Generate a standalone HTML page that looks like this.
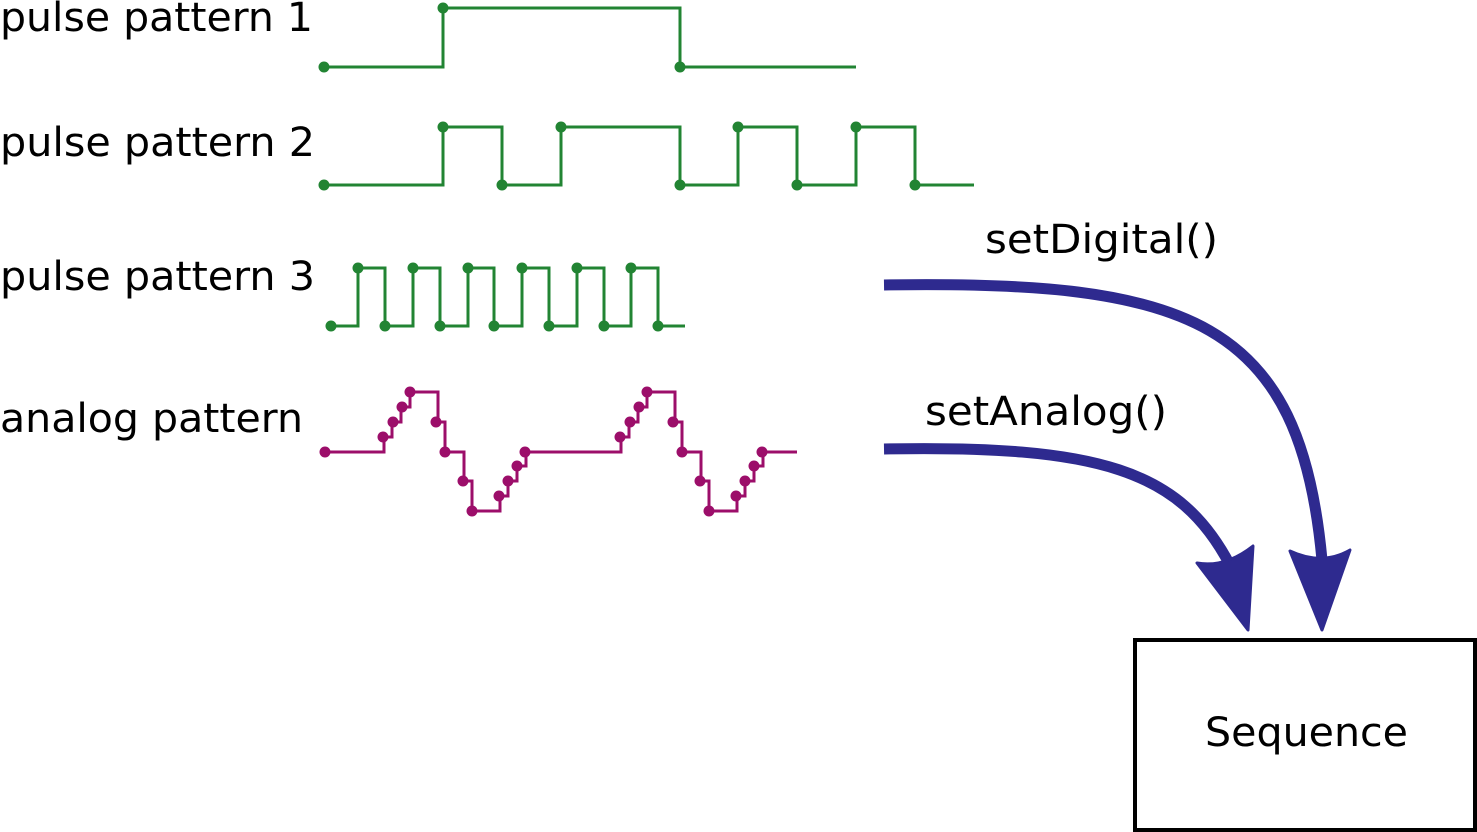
<!DOCTYPE html>
<html><head><style>html,body{margin:0;padding:0;background:#fff}svg{display:block}</style></head>
<body>
<svg width="1477" height="832" viewBox="0 0 1477 832" xmlns="http://www.w3.org/2000/svg">
<g font-family="'DejaVu Sans','Liberation Sans',sans-serif" font-size="40" fill="#000">
<text x="0" y="31" textLength="313" lengthAdjust="spacingAndGlyphs">pulse pattern 1</text>
<text x="0" y="156" textLength="315" lengthAdjust="spacingAndGlyphs">pulse pattern 2</text>
<text x="0" y="290" textLength="315" lengthAdjust="spacingAndGlyphs">pulse pattern 3</text>
<text x="0" y="432" textLength="303" lengthAdjust="spacingAndGlyphs">analog pattern</text>
<text x="985" y="253" textLength="233" lengthAdjust="spacingAndGlyphs">setDigital()</text>
<text x="925" y="425" textLength="242" lengthAdjust="spacingAndGlyphs">setAnalog()</text>
<text x="1205" y="746" textLength="203" lengthAdjust="spacingAndGlyphs">Sequence</text>
</g>
<g fill="none" stroke="#228433" stroke-width="3">
<path d="M324,67 H443 V8 H680 V67 H856"/>
<path d="M324,185 H443 V127 H502 V185 H561 V127 H680 V185 H738 V127 H797 V185 H856 V127 H915 V185 H974"/>
<path d="M331,326 H358 V268 H385 V326 H413 V268 H440 V326 H468 V268 H494 V326 H522 V268 H549 V326 H577 V268 H604 V326 H631 V268 H658 V326 H685"/>
</g>
<g fill="#228433">
<circle cx="324" cy="67" r="5.5"/><circle cx="443" cy="8" r="5.5"/><circle cx="680" cy="67" r="5.5"/>
<circle cx="324" cy="185" r="5.5"/><circle cx="443" cy="127" r="5.5"/><circle cx="502" cy="185" r="5.5"/><circle cx="561" cy="127" r="5.5"/><circle cx="680" cy="185" r="5.5"/><circle cx="738" cy="127" r="5.5"/><circle cx="797" cy="185" r="5.5"/><circle cx="856" cy="127" r="5.5"/><circle cx="915" cy="185" r="5.5"/>
<circle cx="331" cy="326" r="5.5"/><circle cx="358" cy="268" r="5.5"/><circle cx="385" cy="326" r="5.5"/><circle cx="413" cy="268" r="5.5"/><circle cx="440" cy="326" r="5.5"/><circle cx="468" cy="268" r="5.5"/><circle cx="494" cy="326" r="5.5"/><circle cx="522" cy="268" r="5.5"/><circle cx="549" cy="326" r="5.5"/><circle cx="577" cy="268" r="5.5"/><circle cx="604" cy="326" r="5.5"/><circle cx="631" cy="268" r="5.5"/><circle cx="658" cy="326" r="5.5"/>
</g>
<path fill="none" stroke="#9c0e6a" stroke-width="3" d="M325,452 H384 V437 H392 V422 H401 V407 H410 V392 H438 V422 H445 V452 H464 V481 H472 V511 H500 V496 H508 V481 H517 V466 H526 V452 H621 V437 H629 V422 H638 V407 H647 V392 H675 V422 H682 V452 H701 V481 H709 V511 H737 V496 H745 V481 H754 V466 H763 V452 H797"/>
<g fill="#9c0e6a">
<circle cx="325" cy="452" r="5.5"/>
<circle cx="383" cy="437" r="5.5"/><circle cx="393" cy="422" r="5.5"/><circle cx="402" cy="407" r="5.5"/><circle cx="410" cy="392" r="5.5"/><circle cx="436" cy="422" r="5.5"/><circle cx="445" cy="452" r="5.5"/><circle cx="463" cy="481" r="5.5"/><circle cx="472" cy="511" r="5.5"/><circle cx="499" cy="496" r="5.5"/><circle cx="508" cy="481" r="5.5"/><circle cx="517" cy="466" r="5.5"/><circle cx="525" cy="452" r="5.5"/>
<circle cx="620" cy="437" r="5.5"/><circle cx="630" cy="422" r="5.5"/><circle cx="639" cy="407" r="5.5"/><circle cx="647" cy="392" r="5.5"/><circle cx="673" cy="422" r="5.5"/><circle cx="682" cy="452" r="5.5"/><circle cx="700" cy="481" r="5.5"/><circle cx="709" cy="511" r="5.5"/><circle cx="736" cy="496" r="5.5"/><circle cx="745" cy="481" r="5.5"/><circle cx="754" cy="466" r="5.5"/><circle cx="762" cy="452" r="5.5"/>
</g>
<g stroke="#2e2a8f" stroke-width="11" fill="none">
<path d="M884,285 C1190,280 1300,320 1322,560"/>
<path d="M884,449 C1100,445 1180,470 1230,565"/>
</g>
<g fill="#2e2a8f" stroke="#2e2a8f" stroke-width="3" stroke-linejoin="round">
<path d="M1197,563 Q1225,568 1253,546 L1248,630 Z"/>
<path d="M1290,551 Q1322,566 1350,550 L1322,630 Z"/>
</g>
<rect x="1135" y="640" width="340" height="190" fill="none" stroke="#000" stroke-width="4"/>
</svg>
</body></html>
